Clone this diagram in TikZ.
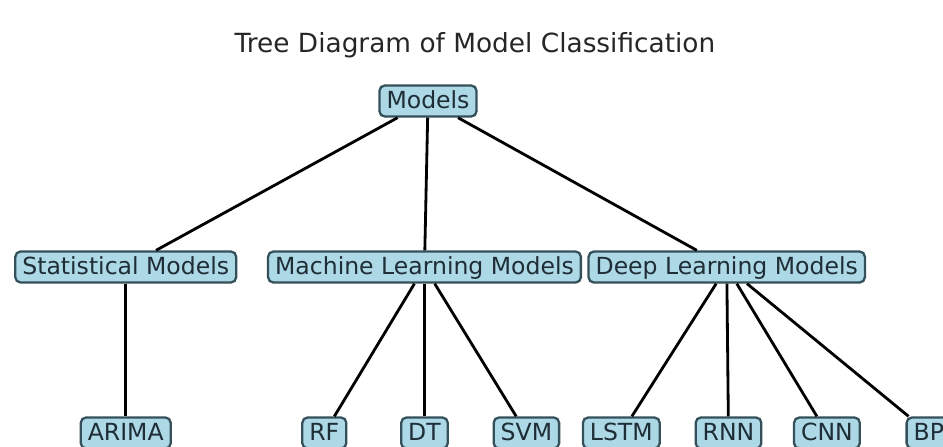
\documentclass[tikz,border=0pt]{standalone}
\usepackage{fontspec}
\setmainfont{DejaVu Sans}
\usepackage{xcolor}
\definecolor{boxfill}{HTML}{ADD8E6}
\definecolor{boxline}{HTML}{34505A}
\definecolor{boxtext}{HTML}{1E2D36}

\tikzset{
    model/.style={draw=boxline, fill=boxfill, line width=1.3pt, rounded corners=3pt,
        text=boxtext, font=\fontsize{13.4}{16}\selectfont, inner xsep=4pt,
        minimum height=0.5cm, text height=10pt, text depth=1pt},
    branch/.style={draw=black, line width=1.6pt}
}

\begin{document}
\begin{tikzpicture}[node distance=3.32cm]
        \useasboundingbox (-8.56,-6.90) rectangle (10.30,2.02);
        \node [text=black!85] (title) at (0.94,1.12) {\fontsize{15}{18}\selectfont Tree Diagram of Model Classification};
        \node [model] (models) at (0,0) {Models};
        \node [model, below of=models, xshift = -172] (stat)  {Statistical Models};
        \node [model, below of=models, xshift = -2] (ml)  {Machine Learning Models};
        \node [model, below of=models, xshift = 170] (dl)  {Deep Learning Models};
        \node [model, below of=stat] (arima)  {ARIMA};
        \node [model, below of=ml, xshift = -57] (rf)  {RF};
        \node [model, below of=ml] (dt)  {DT};
        \node [model, below of=ml, xshift = 58] (svm)  {SVM};
        \node [model, below of=dl, xshift = -60] (lstm)  {LSTM};
        \node [model, below of=dl, xshift = 1] (rnn)  {RNN};
        \node [model, below of=dl, xshift = 57] (cnn)  {CNN};
        \node [model, below of=dl, xshift = 115] (bp)  {BP};
        \draw [branch] (models) -- (stat);
        \draw [branch] (models) -- (ml);
        \draw [branch] (models) -- (dl);
        \draw [branch] (stat) -- (arima);
        \draw [branch] (ml) -- (rf);
        \draw [branch] (ml) -- (dt);
        \draw [branch] (ml) -- (svm);
        \draw [branch] (dl) -- (lstm);
        \draw [branch] (dl) -- (rnn);
        \draw [branch] (dl) -- (cnn);
        \draw [branch] (dl) -- (bp);
    \end{tikzpicture}
\end{document}
